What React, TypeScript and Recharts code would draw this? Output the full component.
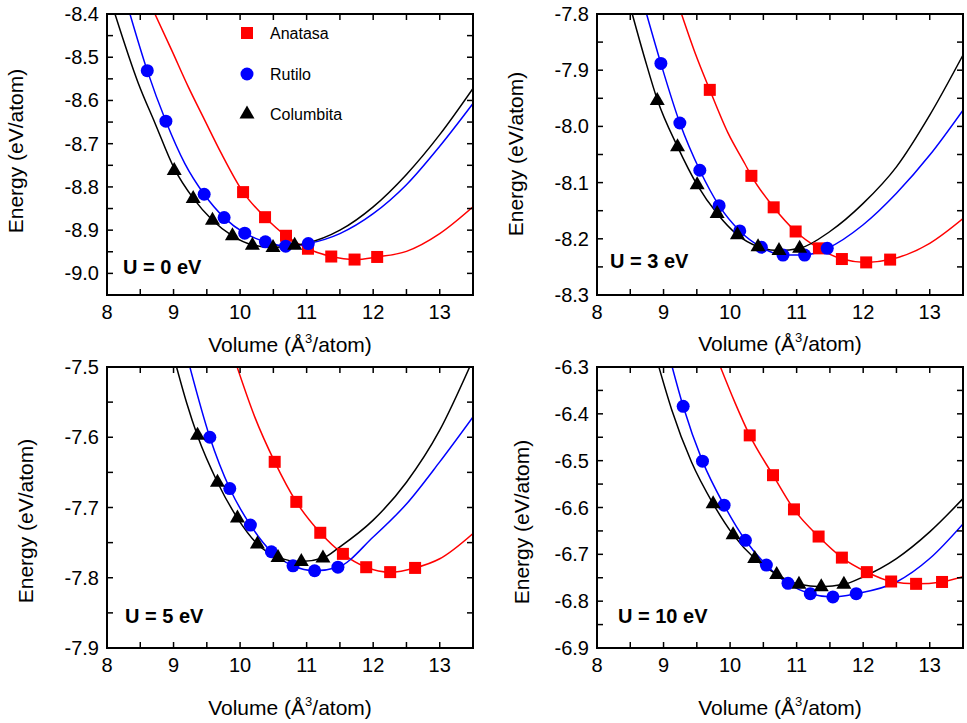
import React from "react";
import { ComposedChart, Line, Scatter, XAxis, YAxis } from "recharts";

type Pt = [number, number];

const FONT = '"Liberation Sans", Arial, Helvetica, sans-serif';
const RED = "#ff0000";
const BLUE = "#0000ff";
const BLACK = "#000000";
const TICK = 6;

// volume axis (same for every panel)
const xMajor = [8, 9, 10, 11, 12, 13];
const xMinor = [8.5, 9.5, 10.5, 11.5, 12.5, 13.5];

// ---------- U = 0 eV ----------
const yMajor0 = [-9.0, -8.9, -8.8, -8.7, -8.6, -8.5, -8.4];
const anatasa0: Pt[] = [[10.045, -8.812], [10.375, -8.87], [10.69, -8.913], [11.02, -8.943], [11.37, -8.961], [11.72, -8.968], [12.06, -8.962]];
const rutilo0: Pt[] = [[8.605, -8.531], [8.885, -8.648], [9.46, -8.817], [9.76, -8.871], [10.07, -8.907], [10.38, -8.927], [10.685, -8.937], [11.025, -8.931]];
const columbita0: Pt[] = [[9.01, -8.762], [9.295, -8.827], [9.585, -8.877], [9.885, -8.913], [10.185, -8.935], [10.495, -8.94], [10.82, -8.935]];
const anatasaFit0: Pt[] = [[8.72, -8.4], [8.97, -8.483], [9.22, -8.568], [9.47, -8.646], [9.72, -8.723], [10.045, -8.812], [10.375, -8.87], [10.69, -8.913], [11.02, -8.943], [11.37, -8.961], [11.72, -8.968], [12.06, -8.962], [12.5, -8.949], [13.0, -8.908], [13.5, -8.846]];
const rutiloFit0: Pt[] = [[8.345, -8.4], [8.605, -8.531], [8.885, -8.648], [9.17, -8.746], [9.46, -8.817], [9.76, -8.871], [10.07, -8.907], [10.38, -8.927], [10.685, -8.937], [11.025, -8.931], [11.5, -8.908], [12.0, -8.862], [12.5, -8.795], [13.0, -8.706], [13.5, -8.607]];
const columbitaFit0: Pt[] = [[8.12, -8.4], [8.47, -8.56], [8.72, -8.652], [9.01, -8.757], [9.295, -8.826], [9.585, -8.877], [9.885, -8.913], [10.185, -8.934], [10.495, -8.94], [10.82, -8.935], [11.0, -8.93], [11.5, -8.9], [12.0, -8.846], [12.5, -8.771], [13.0, -8.679], [13.5, -8.572]];

// ---------- U = 3 eV ----------
const yMajor3 = [-8.3, -8.2, -8.1, -8.0, -7.9, -7.8];
const anatasa3: Pt[] = [[9.695, -7.935], [10.32, -8.088], [10.655, -8.144], [10.985, -8.187], [11.335, -8.217], [11.68, -8.236], [12.045, -8.242], [12.405, -8.237]];
const rutilo3: Pt[] = [[8.96, -7.888], [9.245, -7.994], [9.545, -8.078], [9.835, -8.141], [10.145, -8.186], [10.47, -8.215], [10.795, -8.229], [11.12, -8.229], [11.46, -8.217]];
const columbita3: Pt[] = [[8.905, -7.954], [9.21, -8.036], [9.505, -8.104], [9.805, -8.155], [10.11, -8.193], [10.42, -8.214], [10.735, -8.221], [11.045, -8.217]];
const anatasaFit3: Pt[] = [[9.27, -7.8], [9.47, -7.868], [9.695, -7.935], [9.97, -8.012], [10.22, -8.066], [10.32, -8.088], [10.655, -8.144], [10.985, -8.187], [11.335, -8.217], [11.68, -8.236], [12.045, -8.242], [12.405, -8.237], [13.0, -8.208], [13.5, -8.164]];
const rutiloFit3: Pt[] = [[8.745, -7.8], [8.96, -7.888], [9.245, -7.994], [9.545, -8.078], [9.835, -8.141], [10.145, -8.186], [10.47, -8.215], [10.795, -8.229], [11.12, -8.229], [11.46, -8.217], [12.0, -8.175], [12.5, -8.119], [13.0, -8.051], [13.5, -7.971]];
const columbitaFit3: Pt[] = [[8.53, -7.8], [8.72, -7.88], [8.905, -7.952], [9.21, -8.036], [9.505, -8.104], [9.805, -8.155], [10.11, -8.193], [10.42, -8.214], [10.735, -8.221], [11.045, -8.217], [11.5, -8.187], [12.0, -8.137], [12.5, -8.072], [13.0, -7.98], [13.5, -7.873]];

// ---------- U = 5 eV ----------
const yMajor5 = [-7.9, -7.8, -7.7, -7.6, -7.5];
const anatasa5: Pt[] = [[10.52, -7.635], [10.845, -7.692], [11.205, -7.736], [11.545, -7.766], [11.895, -7.785], [12.255, -7.792], [12.63, -7.786]];
const rutilo5: Pt[] = [[9.545, -7.6], [9.845, -7.673], [10.155, -7.725], [10.47, -7.763], [10.795, -7.783], [11.12, -7.79], [11.47, -7.785]];
const columbita5: Pt[] = [[9.36, -7.597], [9.66, -7.664], [9.96, -7.715], [10.26, -7.752], [10.57, -7.771], [10.92, -7.777], [11.245, -7.772]];
const anatasaFit5: Pt[] = [[9.955, -7.5], [10.22, -7.571], [10.52, -7.635], [10.845, -7.692], [11.205, -7.736], [11.545, -7.766], [11.895, -7.785], [12.255, -7.792], [12.63, -7.786], [13.0, -7.773], [13.5, -7.737]];
const rutiloFit5: Pt[] = [[9.245, -7.5], [9.545, -7.6], [9.845, -7.673], [10.155, -7.725], [10.47, -7.763], [10.795, -7.783], [11.12, -7.79], [11.47, -7.785], [12.0, -7.742], [12.5, -7.695], [13.0, -7.635], [13.5, -7.571]];
const columbitaFit5: Pt[] = [[9.045, -7.5], [9.2, -7.552], [9.36, -7.598], [9.66, -7.664], [9.96, -7.715], [10.26, -7.752], [10.57, -7.771], [10.92, -7.777], [11.245, -7.772], [11.5, -7.756], [12.0, -7.718], [12.5, -7.664], [13.0, -7.59], [13.45, -7.5]];

// ---------- U = 10 eV ----------
const yMajor10 = [-6.9, -6.8, -6.7, -6.6, -6.5, -6.4, -6.3];
const anatasa10: Pt[] = [[10.295, -6.446], [10.645, -6.531], [10.96, -6.604], [11.33, -6.662], [11.68, -6.707], [12.055, -6.738], [12.42, -6.758], [12.795, -6.763], [13.185, -6.759]];
const rutilo10: Pt[] = [[9.295, -6.384], [9.585, -6.501], [9.91, -6.595], [10.23, -6.67], [10.545, -6.723], [10.87, -6.762], [11.205, -6.784], [11.545, -6.791], [11.895, -6.784]];
const columbita10: Pt[] = [[9.745, -6.592], [10.045, -6.658], [10.37, -6.709], [10.7, -6.743], [11.035, -6.764], [11.37, -6.769], [11.71, -6.764]];
const anatasaFit10: Pt[] = [[9.855, -6.3], [10.07, -6.375], [10.295, -6.446], [10.645, -6.531], [10.96, -6.604], [11.33, -6.662], [11.68, -6.707], [12.055, -6.738], [12.42, -6.758], [12.795, -6.763], [13.185, -6.759], [13.5, -6.748]];
const rutiloFit10: Pt[] = [[9.13, -6.3], [9.295, -6.384], [9.585, -6.501], [9.91, -6.595], [10.23, -6.67], [10.545, -6.723], [10.87, -6.762], [11.205, -6.784], [11.545, -6.791], [11.895, -6.784], [12.5, -6.759], [13.0, -6.709], [13.5, -6.635]];
const columbitaFit10: Pt[] = [[8.93, -6.3], [9.12, -6.39], [9.42, -6.503], [9.745, -6.592], [10.045, -6.658], [10.37, -6.709], [10.7, -6.743], [11.035, -6.764], [11.37, -6.769], [11.71, -6.764], [12.0, -6.748], [12.5, -6.709], [13.0, -6.652], [13.5, -6.581]];

const rows = (pts: Pt[]) => pts.map(([v, e]) => ({ v, e }));
const near = (list: number[], v: number) => list.some((m) => Math.abs(m - v) < 1e-6);
const withMinor = (major: number[]) => {
  const s = [...major].sort((a, b) => a - b);
  const mids = s.slice(1).map((v, i) => +((v + s[i]) / 2).toFixed(3));
  return [...s, ...mids].sort((a, b) => a - b);
};

const labelStyle = { fontSize: 20, fontFamily: FONT, fill: BLACK };

const bottomTick = (props: any) => {
  const { x, y, payload } = props;
  return (
    <g>
      <line x1={x} y1={y} x2={x} y2={y - TICK} stroke={BLACK} strokeWidth={1.5} />
      {near(xMajor, payload.value) && (
        <text x={x} y={y + 24} textAnchor="middle" {...labelStyle}>
          {payload.value}
        </text>
      )}
    </g>
  );
};
const topTick = (props: any) => {
  const { x, y } = props;
  return <line x1={x} y1={y} x2={x} y2={y + TICK} stroke={BLACK} strokeWidth={1.5} />;
};
const makeLeftTick = (major: number[]) => (props: any) => {
  const { x, y, payload } = props;
  return (
    <g>
      <line x1={x} y1={y} x2={x + TICK} y2={y} stroke={BLACK} strokeWidth={1.5} />
      {near(major, payload.value) && (
        <text x={x - 8} y={y + 7} textAnchor="end" {...labelStyle}>
          {Number(payload.value).toFixed(1)}
        </text>
      )}
    </g>
  );
};
const rightTick = (props: any) => {
  const { x, y } = props;
  return <line x1={x} y1={y} x2={x - TICK} y2={y} stroke={BLACK} strokeWidth={1.5} />;
};

const SquareDot = (p: any) => <rect x={p.cx - 6} y={p.cy - 6} width={12} height={12} fill={RED} />;
const CircleDot = (p: any) => <circle cx={p.cx} cy={p.cy} r={6.5} fill={BLUE} />;
const TriangleDot = (p: any) => (
  <polygon points={`${p.cx},${p.cy - 8.5} ${p.cx - 7.5},${p.cy + 4.5} ${p.cx + 7.5},${p.cy + 4.5}`} fill={BLACK} />
);

const panels = [
  { key: "u0", left: 0, top: 0, domain: [-9.05, -8.4], yMajor: yMajor0, anatasa: anatasa0, rutilo: rutilo0, columbita: columbita0, anatasaFit: anatasaFit0, rutiloFit: rutiloFit0, columbitaFit: columbitaFit0 },
  { key: "u3", left: 490, top: 0, domain: [-8.3, -7.8], yMajor: yMajor3, anatasa: anatasa3, rutilo: rutilo3, columbita: columbita3, anatasaFit: anatasaFit3, rutiloFit: rutiloFit3, columbitaFit: columbitaFit3 },
  { key: "u5", left: 0, top: 353, domain: [-7.9, -7.5], yMajor: yMajor5, anatasa: anatasa5, rutilo: rutilo5, columbita: columbita5, anatasaFit: anatasaFit5, rutiloFit: rutiloFit5, columbitaFit: columbitaFit5 },
  { key: "u10", left: 490, top: 353, domain: [-6.9, -6.3], yMajor: yMajor10, anatasa: anatasa10, rutilo: rutilo10, columbita: columbita10, anatasaFit: anatasaFit10, rutiloFit: rutiloFit10, columbitaFit: columbitaFit10 },
];

const uLabels = [
  { text: "U = 0 eV", x: 123, y: 274 },
  { text: "U = 3 eV", x: 610, y: 268 },
  { text: "U = 5 eV", x: 125, y: 623 },
  { text: "U = 10 eV", x: 618, y: 623 },
];
const yTitles = [
  { x: 23, y: 151 },
  { x: 523, y: 154 },
  { x: 33, y: 521 },
  { x: 529, y: 522 },
];
const xTitles = [
  { x: 290, y: 352 },
  { x: 780, y: 351 },
  { x: 290, y: 715 },
  { x: 780, y: 715 },
];
const legendItems = [
  { name: "Anatasa", y: 33, Dot: SquareDot },
  { name: "Rutilo", y: 74, Dot: CircleDot },
  { name: "Columbita", y: 114, Dot: TriangleDot },
];

const axisLine = { stroke: BLACK, strokeWidth: 2, strokeLinecap: "square" as const };

function Panel({ p }: { p: (typeof panels)[number] }) {
  const xTicks = [...xMajor, ...xMinor].sort((a, b) => a - b);
  const yTicks = withMinor(p.yMajor);
  // axes are 1px thick boxes so recharts still draws them; plot area = 107..473 x 14..295
  return (
    <div style={{ position: "absolute", left: p.left, top: p.top }}>
      <ComposedChart width={477} height={345} margin={{ top: 13, left: 106, right: 3, bottom: 49 }}>
        <XAxis type="number" dataKey="v" domain={[8, 13.5]} allowDataOverflow ticks={xTicks} interval={0} height={1} tickSize={0} tickMargin={0} tickLine={false} axisLine={axisLine} tick={bottomTick} />
        <XAxis xAxisId="top" orientation="top" type="number" dataKey="v" domain={[8, 13.5]} allowDataOverflow ticks={xTicks} interval={0} height={1} tickSize={0} tickMargin={0} tickLine={false} axisLine={axisLine} tick={topTick} />
        <YAxis type="number" dataKey="e" domain={p.domain} allowDataOverflow ticks={yTicks} interval={0} width={1} tickSize={0} tickMargin={0} tickLine={false} axisLine={axisLine} tick={makeLeftTick(p.yMajor)} />
        <YAxis yAxisId="right" orientation="right" type="number" dataKey="e" domain={p.domain} allowDataOverflow ticks={yTicks} interval={0} width={1} tickSize={0} tickMargin={0} tickLine={false} axisLine={axisLine} tick={rightTick} />
        <Line data={rows(p.anatasaFit)} dataKey="e" type="monotone" stroke={RED} strokeWidth={1.5} dot={false} activeDot={false} isAnimationActive={false} />
        <Line data={rows(p.rutiloFit)} dataKey="e" type="monotone" stroke={BLUE} strokeWidth={1.5} dot={false} activeDot={false} isAnimationActive={false} />
        <Line data={rows(p.columbitaFit)} dataKey="e" type="monotone" stroke={BLACK} strokeWidth={1.5} dot={false} activeDot={false} isAnimationActive={false} />
        <Scatter data={rows(p.anatasa)} dataKey="e" shape={SquareDot} isAnimationActive={false} />
        <Scatter data={rows(p.rutilo)} dataKey="e" shape={CircleDot} isAnimationActive={false} />
        <Scatter data={rows(p.columbita)} dataKey="e" shape={TriangleDot} isAnimationActive={false} />
      </ComposedChart>
    </div>
  );
}

export default function App() {
  return (
    <div style={{ position: "absolute", left: 0, top: 0, width: 967, height: 723, background: "#fff", overflow: "hidden" }}>
      {panels.map((p) => (
        <Panel key={p.key} p={p} />
      ))}
      <svg width={967} height={723} style={{ position: "absolute", left: 0, top: 0, pointerEvents: "none" }} fontFamily={FONT}>
        {legendItems.map(({ name, y, Dot }) => (
          <g key={name}>
            <Dot cx={247} cy={y} />
            <text x={270} y={y + 6} fontSize={16} fill={BLACK}>
              {name}
            </text>
          </g>
        ))}
        {uLabels.map((u) => (
          <text key={u.text} x={u.x} y={u.y} fontSize={20} fontWeight="bold" fill={BLACK}>
            {u.text}
          </text>
        ))}
        {yTitles.map((t, i) => (
          <text key={i} transform={`translate(${t.x},${t.y}) rotate(-90)`} textAnchor="middle" fontSize={21} fill={BLACK}>
            Energy (eV/atom)
          </text>
        ))}
        {xTitles.map((t, i) => (
          <text key={i} x={t.x} y={t.y} textAnchor="middle" fontSize={21} fill={BLACK}>
            Volume (Å
            <tspan dy={-9} fontSize={13}>
              3
            </tspan>
            <tspan dy={9}>/atom)</tspan>
          </text>
        ))}
      </svg>
    </div>
  );
}
